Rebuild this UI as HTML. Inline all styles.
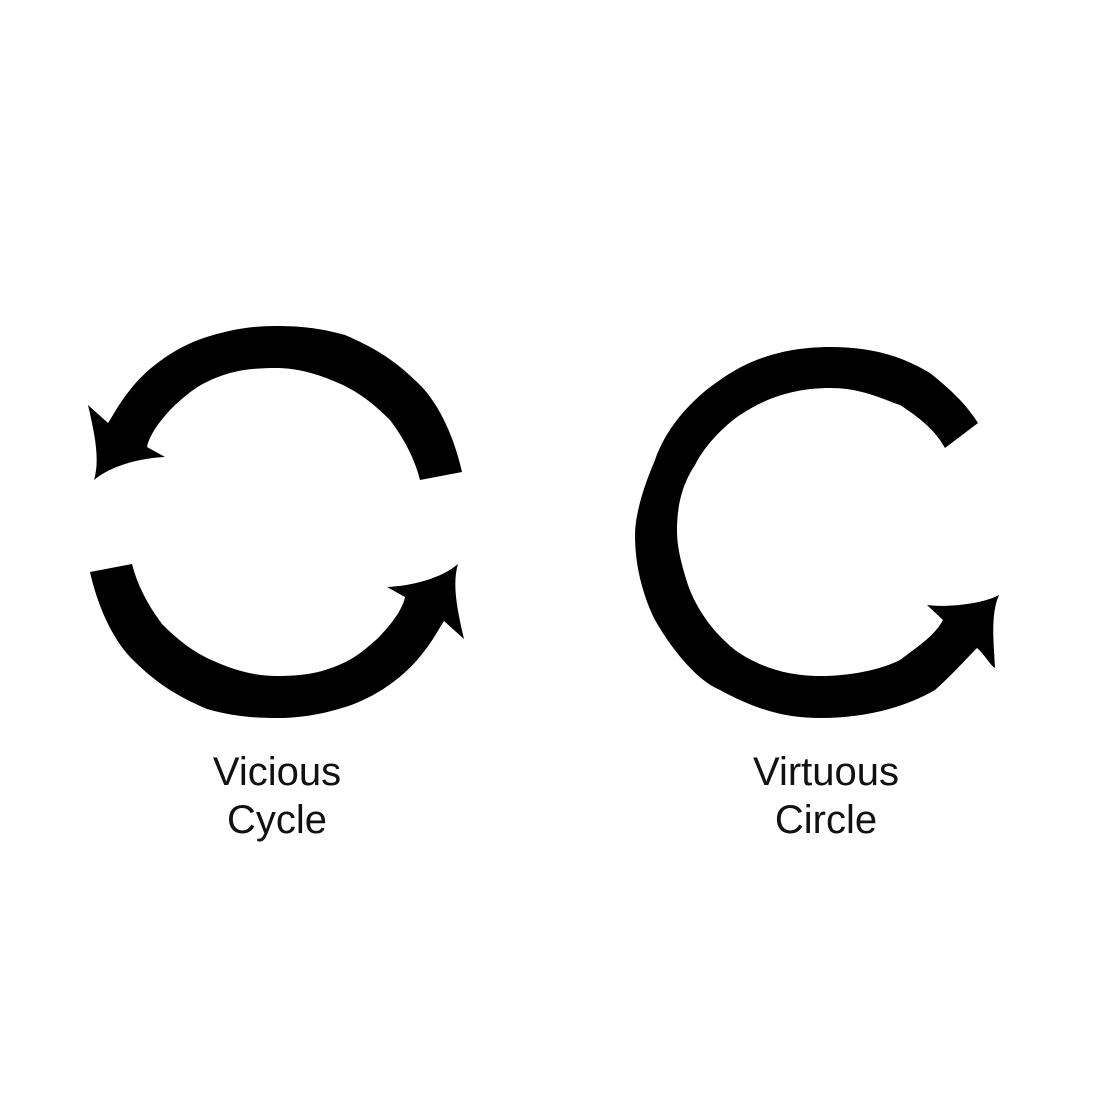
<!DOCTYPE html>
<html><head><meta charset="utf-8"><style>
html,body{margin:0;padding:0;background:#fff;}
svg{display:block}
text{font-family:"Liberation Sans",sans-serif;font-size:40px;fill:#111;text-anchor:middle}
</style></head><body>
<svg width="1100" height="1100" viewBox="0 0 1100 1100">
<g id="top">
<path d="M462,472 C455,440 440,405 420,385 C395,360 375,348 345,335 C320,328 300,326 275,326 C250,326 230,330 210,336 C175,346 145,370 130,390 C120,402 115,412 108,423 L88,405 C95,435 100,460 94,480 C110,466 140,458 165,457 L147,447 C150,432 165,415 175,405 C190,392 200,382 230,373 C245,369 260,368 275,368 C295,368 315,372 345,386 C365,396 380,410 390,420 C405,440 415,460 420,480 Z" fill="#000"/>
</g>
<use href="#top" transform="rotate(180 276 522)"/>
<path d="M978,423 C965,402 945,385 930,373 C900,355 870,347 830,347 C780,347 745,362 720,380 C690,400 665,430 655,460 C640,495 635,520 635,535 C635,570 645,600 655,620 C675,655 700,682 720,690 C760,712 790,718 820,718 C860,718 900,710 935,690 C955,672 965,660 977,648 C985,655 990,665 995,668 C994,645 990,615 999,595 C985,603 950,608 927,605 L943,620 C935,635 920,645 900,660 C880,670 850,676 820,676 C790,676 760,668 735,650 C710,630 695,605 688,585 C680,560 677,545 677,530 C677,500 685,480 695,465 C705,445 725,425 740,415 C770,395 800,388 830,388 C860,388 880,398 900,405 C920,418 935,430 945,448 Z" fill="#000"/>
<text x="277" y="785">Vicious</text>
<text x="277" y="833">Cycle</text>
<text x="826" y="785">Virtuous</text>
<text x="826" y="833">Circle</text>
</svg>
</body></html>
